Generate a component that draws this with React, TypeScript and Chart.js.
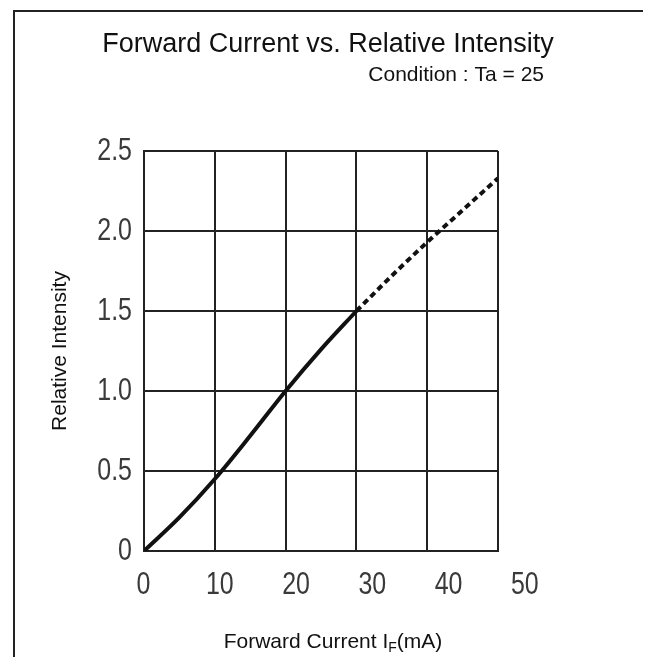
import React, { useEffect, useRef } from "react";
import { Chart, registerables } from "chart.js";

Chart.register(...registerables);

// ---- data ----
const solidCurrent = [0, 5, 10, 15, 20, 25, 30];
const solidIntensity = [0, 0.21, 0.45, 0.72, 1.0, 1.26, 1.5];
const dashedCurrent = [30, 35, 40, 45, 50];
const dashedIntensity = [1.5, 1.72, 1.93, 2.13, 2.33];
const xTickLabels = [0, 10, 20, 30, 40, 50];

const titleText = "Forward Current vs. Relative Intensity";
const subtitleText = "Condition : Ta = 25";
const yTitleText = "Relative Intensity";
const xTitleMain = "Forward Current I";
const xTitleSub = "F";
const xTitleTail = "(mA)";

const SANS = "'Liberation Sans', Arial, Helvetica, sans-serif";
const INK = "#111";
const TICK_COLOR = "#3a3a3a";

function drawNarrow(ctx: any, text: string, x: number, y: number, align: string) {
  ctx.save();
  ctx.translate(x, y);
  ctx.scale(0.78, 1);
  ctx.textAlign = align;
  ctx.textBaseline = "middle";
  ctx.fillText(text, 0, 0);
  ctx.restore();
}

const textPlugin = {
  id: "textPlugin",
  afterDraw(chart: any) {
    const ctx = chart.ctx;
    const area = chart.chartArea;
    ctx.save();
    // frame
    ctx.strokeStyle = "#222";
    ctx.lineWidth = 2;
    ctx.strokeRect(14, 11, 634, 700);

    // tick labels (narrow face), positioned by the chart's scales
    ctx.fillStyle = TICK_COLOR;
    ctx.font = `32px ${SANS}`;
    const ys = chart.scales.y;
    ys.ticks.forEach((t: any) => {
      const v = Number(t.value);
      const label = v === 0 ? "0" : v.toFixed(1);
      drawNarrow(ctx, label, area.left - 12, ys.getPixelForValue(v), "right");
    });
    const xl = chart.scales.xl;
    xTickLabels.forEach((v) => {
      drawNarrow(ctx, String(v), xl.getPixelForValue(v), area.bottom + 34, "center");
    });

    ctx.fillStyle = "#111";
    // title
    ctx.font = `27px ${SANS}`;
    ctx.textAlign = "center";
    ctx.textBaseline = "middle";
    ctx.fillText(titleText, 328, 45);
    // subtitle
    ctx.font = `21px ${SANS}`;
    ctx.textAlign = "right";
    ctx.fillText(subtitleText, 544, 75);
    // x title with subscript
    const main = `21px ${SANS}`;
    const sub = `14px ${SANS}`;
    ctx.font = main;
    const w1 = ctx.measureText(xTitleMain).width;
    const w3 = ctx.measureText(xTitleTail).width;
    ctx.font = sub;
    const w2 = ctx.measureText(xTitleSub).width;
    const total = w1 + w2 + w3;
    let x = 333 - total / 2;
    const y = 642;
    ctx.textAlign = "left";
    ctx.textBaseline = "middle";
    ctx.font = main;
    ctx.fillText(xTitleMain, x, y);
    x += w1;
    ctx.font = sub;
    ctx.fillText(xTitleSub, x, y + 6);
    x += w2;
    ctx.font = main;
    ctx.fillText(xTitleTail, x, y);
    ctx.restore();
  },
};

export default function App() {
  const ref = useRef<HTMLCanvasElement | null>(null);

  useEffect(() => {
    if (!ref.current) return;
    const chart = new Chart(ref.current, {
      type: "line",
      data: {
        datasets: [
          {
            label: "measured",
            data: solidCurrent.map((c, i) => ({ x: c, y: solidIntensity[i] })),
            borderColor: INK,
            borderWidth: 4,
            pointRadius: 0,
            cubicInterpolationMode: "monotone",
            xAxisID: "x",
            yAxisID: "y",
          },
          {
            label: "extrapolated",
            data: dashedCurrent.map((c, i) => ({ x: c, y: dashedIntensity[i] })),
            borderColor: INK,
            borderWidth: 4,
            borderDash: [6, 4],
            pointRadius: 0,
            cubicInterpolationMode: "monotone",
            xAxisID: "x",
            yAxisID: "y",
          },
        ],
      },
      options: {
        responsive: false,
        animation: false,
        layout: { padding: { left: 44, right: 153, top: 151, bottom: 114 } },
        plugins: {
          legend: { display: false },
          title: { display: false },
          tooltip: { enabled: false },
        },
        scales: {
          x: {
            type: "linear",
            position: "bottom",
            min: 0,
            max: 50,
            ticks: { stepSize: 10, display: false },
            grid: { color: "#222", lineWidth: 2, drawTicks: false },
            border: { display: true, color: "#222", width: 2 },
            afterFit: (s: any) => {
              s.height = 0;
            },
          },
          xl: {
            type: "linear",
            position: "bottom",
            min: 0.059,
            max: 46.48,
            grid: { display: false, drawTicks: false },
            border: { display: false },
            ticks: { display: false },
            afterFit: (s: any) => {
              s.height = 0;
            },
          },
          y: {
            type: "linear",
            min: 0,
            max: 2.5,
            ticks: { stepSize: 0.5, display: false },
            grid: { color: "#222", lineWidth: 2, drawTicks: false },
            border: { display: true, color: "#222", width: 2 },
            title: {
              display: true,
              text: yTitleText,
              color: "#111",
              font: { family: SANS, size: 21 },
              padding: { top: 4, bottom: 4 },
            },
            afterFit: (s: any) => {
              s.width = 100;
            },
          },
        },
      },
      plugins: [textPlugin],
    } as any);
    return () => chart.destroy();
  }, []);

  return (
    <div style={{ margin: -8, width: 651, height: 665, background: "#fff" }}>
      <canvas ref={ref} width={651} height={665} style={{ display: "block" }} />
    </div>
  );
}
